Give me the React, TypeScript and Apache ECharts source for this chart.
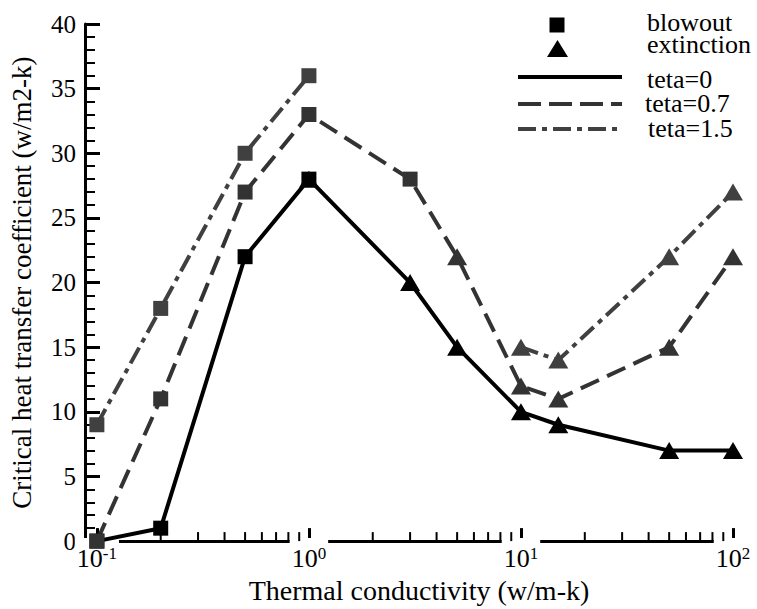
import React, { useEffect, useRef } from "react";
import * as echarts from "echarts";

const conductivity = [0.1, 0.2, 0.5, 1, 3, 5, 10, 15, 50, 100];
const teta0 = [0, 1, 22, 28, 20, 15, 10, 9, 7, 7];
const teta07 = [0, 11, 27, 33, 28, 22, 12, 11, 15, 22];
const teta15: (number | null)[] = [9, 18, 30, 36, null, null, 15, 14, 22, 27];
// b = blowout (square), e = extinction (triangle)
const teta0Regime = ["b", "b", "b", "be", "e", "e", "e", "e", "e", "e"];
const teta07Regime = ["b", "b", "b", "b", "b", "e", "e", "e", "e", "e"];
const teta15Regime = ["b", "b", "b", "b", "", "", "e", "e", "e", "e"];

const xMinorTickValues = [
  0.2, 0.3, 0.4, 0.5, 0.6, 0.7, 0.8, 0.9,
  2, 3, 4, 5, 6, 7, 8, 9,
  20, 30, 40, 50, 60, 70, 80, 90,
];
const markerLabels = ["blowout", "extinction"];
const lineLabels = ["teta=0", "teta=0.7", "teta=1.5"];
const xTitle = "Thermal conductivity (w/m-k)";
const yTitle = "Critical heat transfer coefficient (w/m2-k)";

const FONT = "Liberation Serif";
const X_MIN = 0.0879;
const C0 = "#000000";
const C07 = "#333333";
const C15 = "#404040";
const DASH = [20, 9];
const DASHDOT = [18, 6, 5, 6];

function lineData(vals: (number | null)[]) {
  return conductivity.map((x, i) => [x, vals[i] === null ? "-" : vals[i]]);
}
function markerData(vals: (number | null)[], regime: string[], kind: string) {
  const out: any[] = [];
  conductivity.forEach((x, i) => {
    if (vals[i] !== null && regime[i].indexOf(kind) >= 0) out.push([x, vals[i]]);
  });
  return out;
}

export default function App() {
  const ref = useRef<HTMLDivElement>(null);
  useEffect(() => {
    if (!ref.current) return;
    const chart = echarts.init(ref.current, null, { renderer: "svg" });
    const groups = [
      { vals: teta0, regime: teta0Regime, color: C0, type: "solid" as any },
      { vals: teta07, regime: teta07Regime, color: C07, type: DASH as any },
      { vals: teta15, regime: teta15Regime, color: C15, type: DASHDOT as any },
    ];
    const series: any[] = [];
    // x minor ticks first (custom series through the x scale)
    series.push({
      type: "custom",
      data: xMinorTickValues.map((v) => [v, 0]),
      silent: true,
      z: 8,
      renderItem: (params: any, api: any) => {
        const p = api.coord([api.value(0), 0]);
        return {
          type: "rect",
          shape: { x: p[0] - 1, y: p[1] - 9, width: 2, height: 9 },
          style: { fill: "#000" },
        };
      },
    });
    groups.forEach((g, gi) => {
      series.push({
        type: "line",
        data: lineData(g.vals),
        showSymbol: false,
        symbol: "none",
        connectNulls: false,
        lineStyle: { color: g.color, width: 4, type: g.type },
        z: 3 + gi,
        silent: true,
      });
    });
    groups.forEach((g) => {
      series.push({
        type: "scatter",
        data: markerData(g.vals, g.regime, "e"),
        symbol: "triangle",
        symbolSize: [20, 17],
        itemStyle: { color: g.color, opacity: 1 },
        z: 6,
        silent: true,
      });
      series.push({
        type: "scatter",
        data: markerData(g.vals, g.regime, "b"),
        symbol: "rect",
        symbolSize: 15,
        itemStyle: { color: g.color, opacity: 1 },
        z: 7,
        silent: true,
      });
    });

    const graphic: any[] = [
      { type: "rect", shape: { x: 549.5, y: 17.5, width: 15, height: 15 }, style: { fill: "#000" } },
      { type: "polygon", shape: { points: [[547, 57], [568, 57], [557.5, 40]] }, style: { fill: "#000" } },
      { type: "line", shape: { x1: 518, y1: 77, x2: 622, y2: 77 }, style: { stroke: C0, lineWidth: 4 } },
      { type: "line", shape: { x1: 518, y1: 104, x2: 622, y2: 104 }, style: { stroke: C07, lineWidth: 4, lineDash: [23, 8] } },
      { type: "line", shape: { x1: 518, y1: 129, x2: 618, y2: 129 }, style: { stroke: C15, lineWidth: 4, lineDash: DASHDOT } },
    ];
    const markerTextY = [22, 44];
    markerLabels.forEach((t, i) => {
      graphic.push({
        type: "text",
        x: 647,
        y: markerTextY[i],
        style: { text: t, fontSize: 26, fontFamily: FONT, lineHeight: 20, fill: "#000", verticalAlign: "middle", align: "left" },
      });
    });
    const lineTextY = [79, 103, 128];
    const lineTextX = [647, 645, 648];
    lineLabels.forEach((t, i) => {
      graphic.push({
        type: "text",
        x: lineTextX[i],
        y: lineTextY[i],
        style: { text: t, fontSize: 26, fontFamily: FONT, lineHeight: 20, fill: "#000", verticalAlign: "middle", align: "left" },
      });
    });

    chart.setOption({
      animation: false,
      backgroundColor: "#fff",
      grid: { left: 81, right: 24, top: 24, bottom: 53, containLabel: false },
      xAxis: {
        type: "log",
        logBase: 10,
        min: X_MIN,
        max: 100,
        name: xTitle,
        nameLocation: "middle",
        nameGap: 26,
        nameTextStyle: { fontSize: 28, fontFamily: FONT, color: "#000", padding: [0, 0, 0, 20] },
        axisLine: { show: true, lineStyle: { color: "#000", width: 3 } },
        axisTick: { show: true, inside: true, length: 13, lineStyle: { color: "#000", width: 3 } },
        minorTick: { show: false },
        splitLine: { show: false },
        minorSplitLine: { show: false },
        axisLabel: {
          showMinLabel: false,
          margin: -3,
          padding: [7, 2, 0, 2],
          backgroundColor: "#fff",
          formatter: (v: number) => {
            const l = Math.log10(v);
            const e = Math.round(l);
            if (Math.abs(l - e) > 1e-6) return "";
            return "{b|10}{s|" + e + "}";
          },
          rich: {
            b: { fontSize: 26, fontFamily: FONT, color: "#000", lineHeight: 26 },
            s: { fontSize: 17, fontFamily: FONT, color: "#000", lineHeight: 17, verticalAlign: "top" },
          },
        },
      },
      yAxis: {
        type: "value",
        min: 0,
        max: 40,
        interval: 5,
        name: yTitle,
        nameLocation: "middle",
        nameGap: 50,
        nameRotate: 90,
        nameTextStyle: { fontSize: 27, fontFamily: FONT, color: "#000" },
        axisLine: { show: true, lineStyle: { color: "#000", width: 3 } },
        axisTick: { show: true, inside: true, length: 15, lineStyle: { color: "#000", width: 3 } },
        minorTick: { show: true, splitNumber: 5, length: 10, lineStyle: { color: "#000", width: 2 } },
        splitLine: { show: false },
        axisLabel: { fontSize: 25, fontFamily: FONT, color: "#000", margin: 9 },
      },
      graphic,
      series,
    });
    return () => chart.dispose();
  }, []);
  return (
    <div
      ref={ref}
      style={{ position: "absolute", left: 0, top: 0, width: 757, height: 609, background: "#fff" }}
    />
  );
}
